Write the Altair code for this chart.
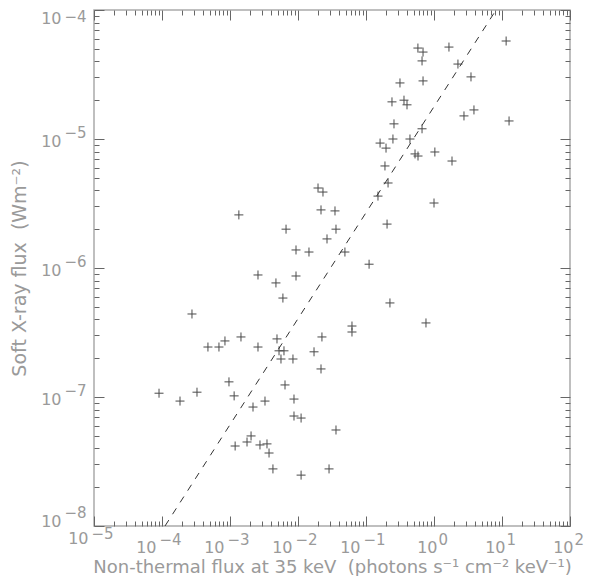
import altair as alt
import pandas as pd

# Non-thermal flux at 35 keV (photons s^-1 cm^-2 keV^-1)
nt_flux = [0.58, 0.69, 1.66, 11.5, 0.667, 2.25, 3.5, 0.316, 0.69, 0.241,
           0.362, 0.401, 3.87, 2.76, 12.7, 0.258, 0.667, 0.249, 0.443, 0.161,
           0.197, 0.526, 0.582, 1.03, 1.84, 0.19, 0.211, 0.15, 1.0, 0.035,
           0.0362, 0.204, 0.049, 0.111, 0.225, 0.762, 0.0622, 0.0622, 0.0197, 0.0233,
           0.0218, 0.00135, 0.00667, 0.0267, 0.00935, 0.0145, 0.00258, 0.00474, 0.00935, 0.006,
           2.76e-4, 0.00145, 0.00491, 0.0225, 8.43e-4, 4.74e-4, 6.88e-4, 0.00258, 0.00526, 0.00622,
           0.0172, 0.00562, 0.00843, 0.0218, 9.66e-4, 0.00644, 9.04e-5, 3.27e-4, 0.00115, 1.84e-4,
           0.00327, 0.00873, 0.00218, 0.00873, 0.0111, 0.0362, 0.00204, 0.00178, 0.00119, 0.00276,
           0.0035, 0.00375, 0.00428, 0.0111, 0.0286]
# Soft X-ray flux (W m^-2)
sxr_flux = [5.07e-5, 4.72e-5, 5.16e-5, 5.75e-5, 4.03e-5, 3.81e-5, 3.03e-5, 2.72e-5, 2.82e-5, 1.94e-5,
            2.0e-5, 1.84e-5, 1.68e-5, 1.51e-5, 1.38e-5, 1.31e-5, 1.2e-5, 1.0e-5, 1.0e-5, 9.3e-6,
            8.5e-6, 7.66e-6, 7.38e-6, 7.93e-6, 6.75e-6, 6.18e-6, 4.56e-6, 3.61e-6, 3.19e-6, 2.77e-6,
            2.0e-6, 2.19e-6, 1.33e-6, 1.07e-6, 5.36e-7, 3.75e-7, 3.55e-7, 3.19e-7, 4.17e-6, 3.88e-6,
            2.82e-6, 2.58e-6, 2.0e-6, 1.68e-6, 1.38e-6, 1.33e-6, 8.83e-7, 7.66e-7, 8.67e-7, 5.85e-7,
            4.4e-7, 2.92e-7, 2.82e-7, 2.92e-7, 2.72e-7, 2.44e-7, 2.44e-7, 2.44e-7, 2.28e-7, 2.28e-7,
            2.24e-7, 1.97e-7, 1.97e-7, 1.65e-7, 1.31e-7, 1.24e-7, 1.07e-7, 1.09e-7, 1.02e-7, 9.3e-8,
            9.3e-8, 9.64e-8, 8.36e-8, 7.12e-8, 6.87e-8, 5.55e-8, 4.99e-8, 4.48e-8, 4.17e-8, 4.25e-8,
            4.33e-8, 3.68e-8, 2.77e-8, 2.48e-8, 2.77e-8]

# Dashed fit line end points
fit_x = [1.107e-4, 8.17]
fit_y = [1e-8, 1e-4]

# Axis decades
x_exponents = [-5, -4, -3, -2, -1, 0, 1, 2]
y_exponents = [-8, -7, -6, -5, -4]

x_major = [10.0 ** e for e in x_exponents]
y_major = [10.0 ** e for e in y_exponents]
x_minor = [m * 10.0 ** e for e in x_exponents[:-1] for m in range(2, 10)]
y_minor = [m * 10.0 ** e for e in y_exponents[:-1] for m in range(2, 10)]

x_title = "Non-thermal flux at 35 keV\u00a0\u00a0(photons s\u207b\u00b9 cm\u207b\u00b2 keV\u207b\u00b9)"
y_title = "Soft X-ray flux\u00a0\u00a0(Wm\u207b\u00b2)"

pts = pd.DataFrame({"x": nt_flux, "y": sxr_flux})
fit = pd.DataFrame({"x": fit_x, "y": fit_y})

xs = alt.Scale(type="log", domain=[1e-5, 1e2], nice=False)
ys = alt.Scale(type="log", domain=[1e-8, 1e-4], nice=False)

FONT = "DejaVu Sans"
TXT = "#9a9a9a"
TICK = "#666666"

EXP = "round(log(datum.value)/LN10)"
exp_expr = f"({EXP} < 0 ? '\u2212' : '') + abs({EXP})"


def cond(tests, default):
    return {"condition": [{"test": t, "value": v} for t, v in tests], "value": default}


def tick_axis(orient, values, size):
    return alt.Axis(orient=orient, values=values, labels=False, domain=False,
                    ticks=True, tickSize=size, offset=-size, tickColor=TICK,
                    tickWidth=1, title=None, grid=False)


# base "10" labels + titles
x_base_axis = alt.Axis(
    orient="bottom", values=x_major, labelExpr="'10'", ticks=False, domain=False,
    grid=False, labelFont=FONT, labelFontSize=16, labelColor=TXT,
    labelFlush=False, labelAlign="right", labelBaseline="top",
    labelOffset=cond([("datum.value < 0.5", -6)], 3),
    labelPadding=cond([("datum.value < 2e-5", 4)], 13),
    title=x_title, titleFont=FONT, titleFontSize=18, titleFontWeight="normal",
    titleColor=TXT, titleX=238, titleY=41, titleAlign="center",
    titleBaseline="middle")
y_base_axis = alt.Axis(
    orient="left", values=y_major, labelExpr="'10'", ticks=False, domain=False,
    grid=False, labelFont=FONT, labelFontSize=16, labelColor=TXT,
    labelFlush=False, labelAlign="right", labelBaseline="middle",
    labelPadding=33,
    labelOffset=cond([("datum.value < 2e-8", -5), ("datum.value > 5e-5", 8)], 2),
    title=y_title, titleFont=FONT, titleFontSize=19, titleFontWeight="normal",
    titleColor=TXT, titleX=-75, titleY=258, titleAngle=270,
    titleAlign="center", titleBaseline="middle")

# exponent labels
x_exp_axis = alt.Axis(
    orient="bottom", values=x_major, labelExpr=exp_expr, ticks=False,
    domain=False, grid=False, labelFont=FONT, labelFontSize=15,
    labelColor=TXT, labelFlush=False, labelAlign="left", labelBaseline="top",
    labelOffset=cond([("datum.value < 0.5", -3)], 4),
    labelPadding=cond([("datum.value < 2e-5", 0)], 6),
    title=None)
y_exp_axis = alt.Axis(
    orient="left", values=y_major, labelExpr=exp_expr, ticks=False,
    domain=False, grid=False, labelFont=FONT, labelFontSize=15,
    labelColor=TXT, labelFlush=False, labelAlign="right",
    labelBaseline="middle", labelPadding=8,
    labelOffset=cond([("datum.value < 2e-8", -14), ("datum.value > 5e-5", 6)], -7),
    title=None)

plus = "M-1,0L1,0M0,-1L0,1"

points = alt.Chart(pts).mark_point(
    shape=plus, filled=False, size=81, strokeWidth=1, color="#4a4a4a", opacity=1
).encode(
    x=alt.X("x:Q", scale=xs, axis=x_base_axis),
    y=alt.Y("y:Q", scale=ys, axis=y_base_axis),
)

line = alt.Chart(fit).mark_line(
    strokeDash=[7, 7], color="#333333", strokeWidth=1, clip=True
).encode(
    x=alt.X("x:Q", scale=xs, axis=x_exp_axis),
    y=alt.Y("y:Q", scale=ys, axis=y_exp_axis),
)

major_bl = alt.Chart(pts).mark_point(opacity=0).encode(
    x=alt.X("x:Q", scale=xs, axis=tick_axis("bottom", x_major, 10)),
    y=alt.Y("y:Q", scale=ys, axis=tick_axis("left", y_major, 10)),
)
minor_bl = alt.Chart(pts).mark_point(opacity=0).encode(
    x=alt.X("x:Q", scale=xs, axis=tick_axis("bottom", x_minor, 5)),
    y=alt.Y("y:Q", scale=ys, axis=tick_axis("left", y_minor, 5)),
)
major_tr = alt.Chart(pts).mark_point(opacity=0).encode(
    x=alt.X("x:Q", scale=xs, axis=tick_axis("top", x_major, 10)),
    y=alt.Y("y:Q", scale=ys, axis=tick_axis("right", y_major, 10)),
)
minor_tr = alt.Chart(pts).mark_point(opacity=0).encode(
    x=alt.X("x:Q", scale=xs, axis=tick_axis("top", x_minor, 5)),
    y=alt.Y("y:Q", scale=ys, axis=tick_axis("right", y_minor, 5)),
)

chart = alt.layer(points, line, major_bl, minor_bl, major_tr, minor_tr).resolve_axis(
    x="independent", y="independent"
).properties(
    width=476, height=516, autosize="none",
    padding={"left": 86, "top": 2, "right": 22, "bottom": 50},
    background="white",
).configure_view(
    stroke="#aaaaaa", strokeWidth=1.5
)

chart.save("out.html", embed_options={"renderer": "svg", "actions": False})
